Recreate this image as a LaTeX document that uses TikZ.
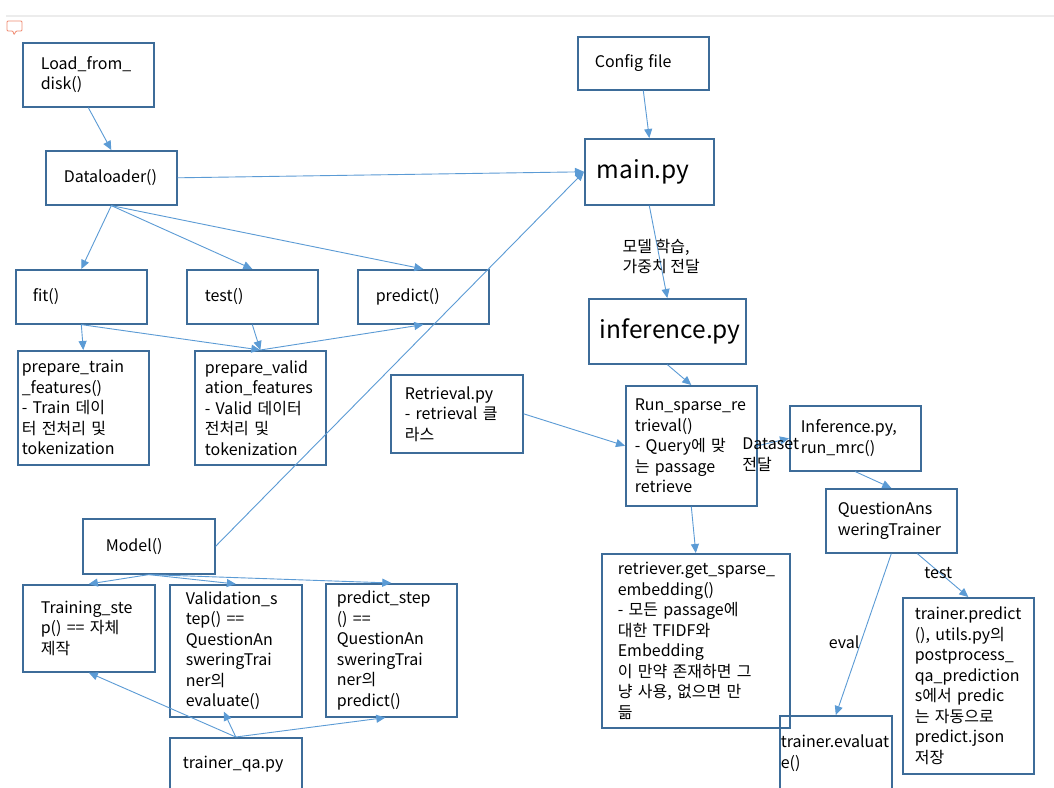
\documentclass[tikz,border=0pt]{standalone}
\usepackage{fontspec}
\setmainfont{Noto Sans CJK KR}
\usetikzlibrary{arrows.meta, positioning}
\definecolor{boxblue}{RGB}{61, 108, 153}
\definecolor{linkblue}{RGB}{91, 155, 213}
\definecolor{notered}{RGB}{240, 140, 115}
\tikzset{
  blk/.style={draw=boxblue, line width=1.6pt, anchor=north west, align=left, inner ysep=0pt,
    font=\fontsize{16}{20.5}\selectfont},
  bigblk/.style={blk, font=\fontsize{24.5}{28}\selectfont},
  link/.style={draw=linkblue, line width=0.9pt, -{Triangle[length=9pt, width=8pt]}},
  lbl/.style={font=\fontsize{16}{20.5}\selectfont, align=left, inner sep=0pt},
}

\begin{document}
\begin{tikzpicture}[x=1pt, y=-1pt]
  \useasboundingbox (0,0) rectangle (1054,787);
  \fill[white] (0,0) rectangle (1054,787);
  \draw[gray!15, line width=1.5pt] (6,16) -- (1054,16);
  \draw[notered, line width=0.8pt, rounded corners=1pt] (7,21) -- (22,21) -- (22,31) -- (16,31) -- (14,35) -- (13,31) -- (7,31) -- cycle;

  % data side
  \node[blk, text width=95pt, inner xsep=18pt, minimum height=64pt] (load) at (22,42) {Load\_from\_\\disk()};
  \node[blk, text width=95pt, inner xsep=18pt, minimum height=54pt] (loader) at (45,150) {Dataloader()};
  \node[blk, text width=97pt, inner xsep=17pt, minimum height=54pt] (fit) at (15,269) {fit()};
  \node[blk, text width=95pt, inner xsep=18pt, minimum height=54pt] (test) at (186,269) {test()};
  \node[blk, text width=95pt, inner xsep=18pt, minimum height=54pt] (predict) at (357,269) {predict()};
  \node[blk, text width=123pt, inner xsep=4pt, minimum height=114pt] (preptrain) at (17,350)
    {prepare\_train\\\_features()\\- Train 데이\\터 전처리 및\\tokenization};
  \node[blk, text width=111pt, inner xsep=10pt, minimum height=114pt] (prepvalid) at (194,350)
    {prepare\_valid\\ation\_features\\- Valid 데이터\\전처리 및\\tokenization};

  % model side
  \node[blk, text width=86pt, inner xsep=23pt, minimum height=55pt] (model) at (82,518) {Model()};
  \node[blk, text width=96pt, inner xsep=18pt, minimum height=87pt] (trainstep) at (22,584)
    {Training\_ste\\p() == 자체\\제작};
  \node[blk, text width=100pt, inner xsep=16pt, minimum height=132pt] (validstep) at (169,584)
    {Validation\_s\\tep() ==\\QuestionAn\\sweringTrai\\ner의\\evaluate()};
  \node[blk, text width=109pt, inner xsep=11pt, minimum height=133pt] (predstep) at (325,583)
    {predict\_step\\() ==\\QuestionAn\\sweringTrai\\ner의\\predict()};
  \node[blk, text width=106pt, inner xsep=13pt, minimum height=53pt] (trainerqa) at (169,737) {trainer\_qa.py};

  % main / inference side
  \node[blk, text width=97pt, inner xsep=17pt, minimum height=53pt] (config) at (577,36) {Config file};
  \node[bigblk, text width=105pt, inner xsep=12pt, minimum height=66pt] (main) at (584,138) {main.py};
  \node[bigblk, text width=135pt, inner xsep=11pt, minimum height=65pt] (inference) at (588,298) {inference.py};
  \node[blk, text width=104pt, inner xsep=14pt, minimum height=78pt] (retrieval) at (390,374)
    {Retrieval.py\\- retrieval 클\\라스};
  \node[blk, text width=113pt, inner xsep=9pt, minimum height=120pt] (sparse) at (625,385)
    {Run\_sparse\_re\\trieval()\\- Query에 맞\\는 passage\\retrieve};
  \node[blk, text width=156pt, inner xsep=16pt, minimum height=174pt] (retriever) at (601,553)
    {retriever.get\_sparse\_\\embedding()\\- 모든 passage에\\대한 TFIDF와\\Embedding\\이 만약 존재하면 그\\냥 사용, 없으면 만\\듦};
  \node[blk, text width=109pt, inner xsep=11pt, minimum height=65pt] (runmrc) at (789,405)
    {Inference.py,\\run\_mrc()};
  \node[blk, text width=107pt, inner xsep=12pt, minimum height=64pt] (qatrainer) at (825,488)
    {QuestionAns\\weringTrainer};
  \node[blk, text width=110pt, inner xsep=1pt, minimum height=75pt] (evaluate) at (779,715)
    {trainer.evaluat\\e()};
  \node[blk, text width=107pt, inner xsep=12pt, minimum height=176pt] (tpredict) at (902,597)
    {trainer.predict\\(), utils.py의\\postprocess\_\\qa\_prediction\\s에서 predic\\는 자동으로\\predict.json\\저장};

  % connectors
  \draw[link] (load.south) -- (loader.north);
  \draw[link] (loader.east) -- (main.west);
  \draw[link] (loader.south) -- (fit.north);
  \draw[link] (loader.south) -- (test.north);
  \draw[link] (loader.south) -- (predict.north);
  \draw[link] (fit.south) -- (preptrain.north);
  \draw[link] (test.south) -- (prepvalid.north);
  \draw[link] (fit.south) -- (prepvalid.north);
  \draw[link] (prepvalid.north) -- (predict.south);
  \draw[link] (model.east) -- (main.west);
  \draw[link] (model.south) -- (trainstep.north);
  \draw[link] (model.south) -- (validstep.north);
  \draw[link] (model.south) -- (predstep.north);
  \draw[link] (trainerqa.north) -- (trainstep.south);
  \draw[link] (trainerqa.north) -- ([xshift=-12pt, yshift=6pt]validstep.south);
  \draw[link] (trainerqa.north) -- ([xshift=-6pt]predstep.south);
  \draw[link] (config.south) -- (main.north);
  \draw[link] (main.south) -- node[lbl, pos=0.55, xshift=2pt] {모델 학습,\\가중치 전달} (inference.north);
  \draw[link] (inference.south) -- (sparse.north);
  \draw[link] (retrieval.east) -- (sparse.west);
  \draw[link] (sparse.south) -- (retriever.north);
  \draw[link] (sparse.east) -- node[lbl, pos=0.45, xshift=-1pt, yshift=-12pt] {Dataset\\전달} (runmrc.west);
  \draw[link] (runmrc.south) -- (qatrainer.north);
  \draw[link] (qatrainer.south) -- node[lbl, pos=0.55, left=1pt] {eval} (evaluate.north);
  \draw[link] ([xshift=26pt]qatrainer.south) -- node[lbl, pos=0.45, xshift=-2pt] {test} (tpredict.north);
\end{tikzpicture}
\end{document}
